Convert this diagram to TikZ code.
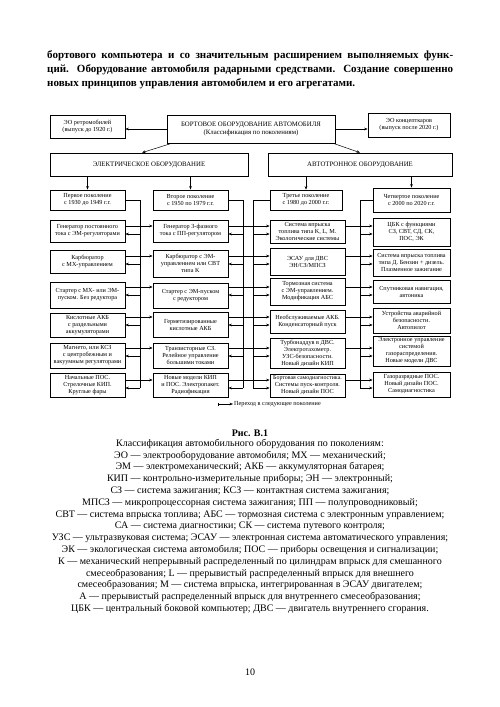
\documentclass[tikz,border=0pt]{standalone}
\usepackage{fontspec}
\setmainfont{Liberation Serif}
\usetikzlibrary{arrows.meta,calc}
\newcommand\mybox[6]{\node[bx, minimum width={#4-#2}, minimum height={#5-#3}] (#1) at ({(#2+#4)/2},{(#3+#5)/2}) {#6};}
\begin{document}
\begin{tikzpicture}[x=1pt,y=-1pt,
  bx/.style={draw=black, line width=0.7pt, fill=white, align=center, inner sep=1pt, font=\fontsize{6.2}{7}\selectfont},
  big/.style={font=\fontsize{6.8}{8}\selectfont},
  fa/.style={-{Stealth[length=3.5pt,width=2.6pt]}, line width=0.5pt},
  tr/.style={{Bar[width=3pt]}-{Stealth[length=3.5pt,width=2.6pt]}, line width=0.5pt},
  ln/.style={line width=0.5pt}]
\fill[white] (0,0) rectangle (500,707);
\useasboundingbox (0,0) rectangle (500,707);
% body text
\node[anchor=base west, inner sep=0, font=\fontsize{11}{14}\selectfont\bfseries] (l1) at (47,58) {\makebox[406pt][s]{бортового компьютера и со значительным расширением выполняемых функ-}};
\node[anchor=base west, inner sep=0, font=\fontsize{11}{14}\selectfont\bfseries] (l2) at (47,72) {\makebox[406pt][s]{ций. Оборудование автомобиля радарными средствами. Создание совершенно}};
\node[anchor=base west, inner sep=0, font=\fontsize{11}{14}\selectfont\bfseries] (l3) at (47,86) {новых принципов управления автомобилем и его агрегатами.};
% top level
\node[bx, big, minimum width=168, minimum height=28] (top) at (251,129) {БОРТОВОЕ ОБОРУДОВАНИЕ АВТОМОБИЛЯ\\(Классификация по поколениям)};
\mybox{retro}{50}{115}{125}{138}{ЭО ретромобилей\\(выпуск до 1920 г.)}
\mybox{concept}{368}{113}{450}{137}{ЭО концепткаров\\(выпуск после 2020 г.)}
\node[bx, big, minimum width=198, minimum height=23] (el) at (149,164.5) {ЭЛЕКТРИЧЕСКОЕ ОБОРУДОВАНИЕ};
\node[bx, big, minimum width=184, minimum height=23] (avto) at (360,164.5) {АВТОТРОННОЕ ОБОРУДОВАНИЕ};
\draw[fa] (top.west) -- (retro.east |- top.west);
\draw[fa] (top.east) -- (concept.west |- top.east);
\draw[fa] ([xshift=5pt]top.south west) -- ([xshift=-7pt]el.north);
\draw[fa] ([xshift=-2pt]top.south east) -- (avto.north);
% generation headers
\mybox{h1}{50}{190}{125}{210}{Первое поколение\\с 1930 до 1949 г.г.}
\mybox{h2}{153}{190}{228}{210}{Второе поколение\\с 1950 по 1979 г.г.}
\mybox{h3}{270}{190}{342}{210}{Третье поколение\\с 1980 до 2000 г.г.}
\mybox{h4}{373}{188}{450}{212}{Четвертое поколение\\с 2000 по 2020 г.г.}
\draw[fa] (el.south -| h1.north) -- (h1.north);
\draw[fa] (el.south -| h2.north) -- (h2.north);
\draw[fa] (avto.south -| h3.north) -- (h3.north);
\draw[fa] (avto.south -| h4.north) -- (h4.north);
% column 1
\mybox{c1r1}{50}{220}{125}{242}{Генератор постоянного\\тока с ЭМ-регуляторами}
\mybox{c1r2}{50}{250}{125}{273}{Карбюратор\\с МХ-управлением}
\mybox{c1r3}{50}{282}{125}{308}{Стартер с МХ- или ЭМ-\\пуском. Без редуктора}
\mybox{c1r4}{50}{313}{125}{337}{Кислотные АКБ\\с раздельными\\аккумуляторами}
\mybox{c1r5}{50}{343}{125}{368}{Магнето, или КСЗ\\с центробежным и\\вакуумным регуляторами}
\mybox{c1r6}{50}{373}{125}{397}{Начальные ПОС.\\Стрелочные КИП.\\Круглые фары}
% column 2
\mybox{c2r1}{153}{220}{228}{242}{Генератор 3-фазного\\тока с ПП-регулятором}
\mybox{c2r2}{153}{250}{228}{277}{Карбюратор с ЭМ-\\управлением или СВТ\\типа K}
\mybox{c2r3}{153}{283}{228}{308}{Стартер с ЭМ-пуском\\с редуктором}
\mybox{c2r4}{153}{312}{228}{337}{Герметизированные\\кислотные АКБ}
\mybox{c2r5}{153}{343}{228}{368}{Транзисторные СЗ.\\Релейное управление\\большими токами}
\mybox{c2r6}{153}{373}{228}{397}{Новые модели КИП\\и ПОС. Электропакет.\\Радиофикация}
% column 3
\mybox{c3r1}{270}{220}{345}{243}{Система впрыска\\топлива типа K, L, M.\\Экологические системы}
\mybox{c3r2}{270}{248}{345}{275}{ЭСАУ для ДВС\\ЭН/СЗ/МПСЗ}
\mybox{c3r3}{270}{278}{345}{305}{Тормозная система\\с ЭМ-управлением.\\Модификация АБС}
\mybox{c3r4}{270}{310}{345}{333}{Необслуживаемые АКБ.\\Конденсаторный пуск}
\mybox{c3r5}{270}{338}{345}{368}{Турбонаддув в ДВС.\\Электротахометр.\\УЗС-безопасности.\\Новый дизайн КИП}
\mybox{c3r6}{270}{374}{345}{397}{\fontsize{5.9}{7}\selectfont Бортовая самодиагностика.\\Системы пуск-контроля.\\Новый дизайн ПОС}
% column 4
\mybox{c4r1}{373}{218}{450}{246}{ЦБК с функциями\\СЗ, СВТ, СД, СК,\\ПОС, ЭК}
\mybox{c4r2}{373}{249}{450}{276}{Система впрыска топлива\\типа Д. Бензин + дизель.\\Плазменное зажигание}
\mybox{c4r3}{373}{280}{450}{303}{Спутниковая навигация,\\автоника}
\mybox{c4r4}{373}{308}{450}{333}{Устройства аварийной\\безопасности.\\Автопилот}
\mybox{c4r5}{373}{336}{450}{366}{Электронное управление\\системой\\газораспределения.\\Новые модели ДВС}
\mybox{c4r6}{373}{372}{450}{397}{Газоразрядные ПОС.\\Новый дизайн ПОС.\\Самодиагностика}
% buses
\coordinate (B1) at (140,200);
\coordinate (B2) at (243,200);
\coordinate (B3) at (253,200);
\coordinate (B4) at (360,200);
\coordinate (Fend) at (0,388);
\draw[ln] (h1.east) -- (B1) -- (B1 |- Fend);
\draw[ln] (h2.east) -- (B2) -- (B2 |- Fend);
\draw[ln] (h3.west) -- (B3) -- (B3 |- Fend);
\draw[ln] (h4.west) -- (B4) -- (B4 |- Fend);
\foreach \r/\t in {1/226,2/256,3/287,4/317,5/348,6/380} {
  \coordinate (T\r) at (0,\t);
  \coordinate (F\r) at (0,\t+8);
  \draw[tr] (c1r\r.east |- T\r) -- (c2r\r.west |- T\r);
  \draw[tr] (c2r\r.east |- T\r) -- (c3r\r.west |- T\r);
  \draw[tr] (c3r\r.east |- T\r) -- (c4r\r.west |- T\r);
  \draw[fa] (B1 |- F\r) -- (c1r\r.east |- F\r);
  \draw[fa] (B2 |- F\r) -- (c2r\r.east |- F\r);
  \draw[fa] (B3 |- F\r) -- (c3r\r.west |- F\r);
  \draw[fa] (B4 |- F\r) -- (c4r\r.west |- F\r);
}
% legend
\coordinate (lg) at (218,404);
\node[anchor=west, inner sep=1pt, font=\fontsize{6.2}{7}\selectfont] (lgt) at (233,404) {Переход в следующее поколение};
\draw[tr] (lg) -- (lgt.west);
% caption
\node[inner sep=0, font=\fontsize{10}{12}\selectfont\bfseries] (fig) at (250,433) {Рис. В.1};
\node[anchor=north, align=center, inner sep=0, font=\fontsize{10}{11.8}\selectfont] (cap) at (250,439) {Классификация автомобильного оборудования по поколениям:\\
ЭО — электрооборудование автомобиля; МХ — механический;\\
ЭМ — электромеханический; АКБ — аккумуляторная батарея;\\
КИП — контрольно-измерительные приборы; ЭН — электронный;\\
СЗ — система зажигания; КСЗ — контактная система зажигания;\\
МПСЗ — микропроцессорная система зажигания; ПП — полупроводниковый;\\
СВТ — система впрыска топлива; АБС — тормозная система с электронным управлением;\\
СА — система диагностики; СК — система путевого контроля;\\
УЗС — ультразвуковая система; ЭСАУ — электронная система автоматического управления;\\
ЭК — экологическая система автомобиля; ПОС — приборы освещения и сигнализации;\\
К — механический непрерывный распределенный по цилиндрам впрыск для смешанного\\
смесеобразования; L — прерывистый распределенный впрыск для внешнего\\
смесеобразования; М — система впрыска, интегрированная в ЭСАУ двигателем;\\
А — прерывистый распределенный впрыск для внутреннего смесеобразования;\\
ЦБК — центральный боковой компьютер; ДВС — двигатель внутреннего сгорания.};
\node[inner sep=0, font=\fontsize{10}{12}\selectfont] (pg) at (250,672) {10};
\end{tikzpicture}
\end{document}
